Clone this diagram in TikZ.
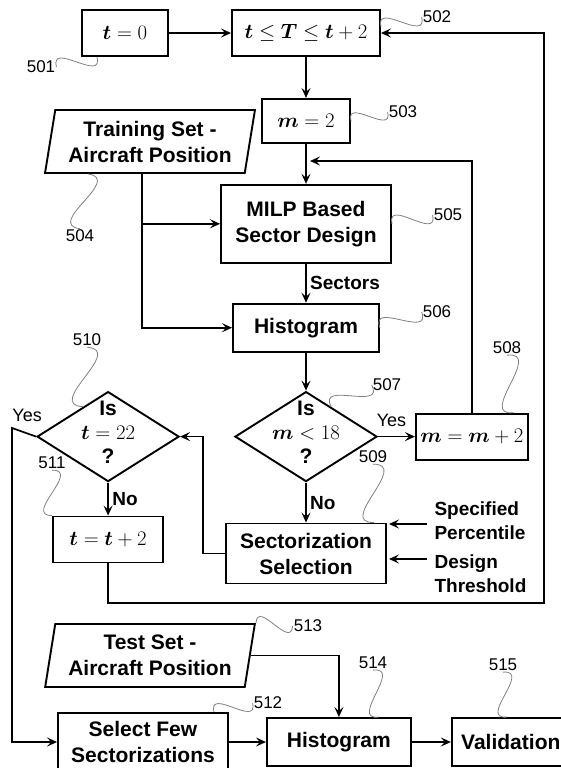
\documentclass[tikz,border=0pt]{standalone}
\usepackage{fontspec}
\setmainfont{Liberation Sans}
\usepackage{amsmath}
\usetikzlibrary{positioning,shapes.geometric,arrows.meta,calc}

\begin{document}
\begin{tikzpicture}
[x=1pt,y=-1pt,
box/.style={draw,line width=1.9pt,inner sep=0pt,align=center,font=\fontsize{21}{26}\selectfont\bfseries},
data/.style={box,trapezium,trapezium left angle=78,trapezium right angle=102,trapezium stretches=true,minimum width=210pt,minimum height=63pt},
decision/.style={draw,line width=1.9pt,diamond,minimum width=142pt,minimum height=90pt,inner sep=0pt},
dtext/.style={align=center,yshift=4pt,font=\fontsize{21}{24}\selectfont\bfseries},
arr/.style={line width=1.7pt,-{Stealth[length=10pt,width=9pt,inset=4pt]}},
lbl/.style={font=\fontsize{19}{24}\selectfont\bfseries},
answer/.style={font=\fontsize{18}{20}\selectfont},
tag/.style={inner sep=1pt,font=\fontsize{17}{20}\selectfont},
squig/.style={gray,line width=0.8pt,to path={.. controls ($(\tikztostart)!0.65!90:(\tikztotarget)$) and ($(\tikztotarget)!0.65!90:(\tikztostart)$) .. (\tikztotarget)}}]
\useasboundingbox (0,0) rectangle (560,768);
% top row
\node[box,minimum width=86pt,minimum height=46pt] (t0) at (125,33) {$\boldsymbol{t}=0$};
\node[box,minimum width=148pt,minimum height=46pt] (range) at (306,33) {$\boldsymbol{t}\leq\boldsymbol{T}\leq\boldsymbol{t}+2$};
\node[box,minimum width=88pt,minimum height=44pt,below=41pt of range] (m2) {$\boldsymbol{m}=2$};
\node[data] (train) at (150,141.5) {Training Set -\\Aircraft Position};
\node[box,minimum width=170pt,minimum height=78pt,below=40pt of m2] (milp) {MILP Based\\Sector Design};
\node[box,minimum width=146pt,minimum height=48pt,below=39pt of milp] (hist) {Histogram};
% decisions
\node[decision,below=38pt of hist,label={[dtext]center:{Is\\$\boldsymbol{m}<18$\\?}}] (isM) {};
\node[box,minimum width=112pt,minimum height=46pt,right=37pt of isM] (mInc) {$\boldsymbol{m}=\boldsymbol{m}+2$};
\node[box,minimum width=160pt,minimum height=60pt,below=40pt of isM] (select) {Sectorization\\Selection};
\node[decision,left=54pt of isM,label={[dtext]center:{Is\\$\boldsymbol{t}=22$\\?}}] (isT) {};
\node[box,minimum width=110pt,minimum height=46pt,below=33pt of isT] (tInc) {$\boldsymbol{t}=\boldsymbol{t}+2$};
\node[lbl,align=left,anchor=west] (spec) at (431,521) {Specified\\Percentile};
\node[lbl,align=left,anchor=west] (thresh) at (431,574) {Design\\Threshold};
% test part
\node[data] (test) at (150,655.5) {Test Set -\\Aircraft Position};
\node[box,minimum width=170pt,minimum height=58pt] (few) at (143,742) {Select Few\\Sectorizations};
\node[box,minimum width=144pt,minimum height=48pt,right=37pt of few] (hist2) {Histogram};
\node[box,minimum width=118pt,minimum height=48pt,right=39pt of hist2] (valid) {Validation};
\coordinate (loopIn) at (310,161);
\coordinate (trainOut) at ($(train.south)+(-8,0)$);
\coordinate (leftRail) at (12,428);
\coordinate (rightRail) at (544,603);
% connectors
\draw[arr] (t0) -- (range);
\draw[arr] (range) -- (m2);
\draw[arr] (m2) -- (milp);
\draw[arr] (milp) -- node[lbl,right]{Sectors} (hist);
\draw[arr] (trainOut) |- (hist);
\draw[arr] (trainOut |- milp.west) -- (milp);
\draw[arr] (hist) -- (isM);
\draw[arr] (isM) -- node[answer,above=6pt,xshift=-5pt]{Yes} (mInc);
\draw[arr] (mInc) |- (loopIn);
\draw[arr] (isM) -- node[lbl,right]{No} (select);
\draw[arr] (select.west) -- ++(-22,0) |- (isT.east);
\draw[arr] (isT) -- node[lbl,right]{No} (tInc);
\draw[arr] (isT.west) -- node[answer,above=6pt,xshift=3pt]{Yes} (leftRail) |- (few.west);
\draw[arr] (tInc) |- (rightRail) |- (range.east);
\draw[arr] ([shift={(-4,3)}]spec.west) -- ++(-38,0);
\draw[arr] ([shift={(-4,-15)}]thresh.west) -- ++(-38,0);
\draw[arr] (test.east) -| (hist2);
\draw[arr] (few) -- (hist2);
\draw[arr] (hist2) -- (valid);
% reference numerals
\node[tag] (n501) at (41,67) {501};
\node[tag] (n502) at (437,17) {502};
\node[tag] (n503) at (403,112) {503};
\node[tag] (n504) at (80,236) {504};
\node[tag] (n505) at (448,215) {505};
\node[tag] (n506) at (437,312) {506};
\node[tag] (n507) at (387,385) {507};
\node[tag] (n508) at (507,348) {508};
\node[tag] (n509) at (373,457) {509};
\node[tag] (n510) at (87,340) {510};
\node[tag] (n511) at (52,463) {511};
\node[tag] (n512) at (268,703) {512};
\node[tag] (n513) at (308,626) {513};
\node[tag] (n514) at (373,663) {514};
\node[tag] (n515) at (503,665) {515};
\draw[squig] (n501.east) to ($(t0.south west)+(16,0)$);
\draw[squig] ($(range.east)+(0,-6)$) to (n502.west);
\draw[squig] (m2.east) to (n503.west);
\draw[squig] ($(train.south)+(-62,0)$) to (n504.north);
\draw[squig] (milp.east) to (n505.west);
\draw[squig] (hist.east) to (n506.west);
\draw[squig] ($(isM.north)!0.35!(isM.east)$) to (n507.west);
\draw[squig] ($(mInc.north east)+(-15,0)$) to (n508.south);
\draw[squig] ($(select.north east)+(-13,0)$) to (n509.south);
\draw[squig] ($(isT.north)!0.35!(isT.west)$) to (n510.south);
\draw[squig] (tInc.north west) to (n511.south);
\draw[squig] ($(few.north east)+(-15,0)$) to (n512.west);
\draw[squig] (test.top right corner) to (n513.west);
\draw[squig] ($(hist2.north east)+(-33,0)$) to (n514.south);
\draw[squig] ($(valid.north west)+(56,0)$) to (n515.south);
\end{tikzpicture}
\end{document}
